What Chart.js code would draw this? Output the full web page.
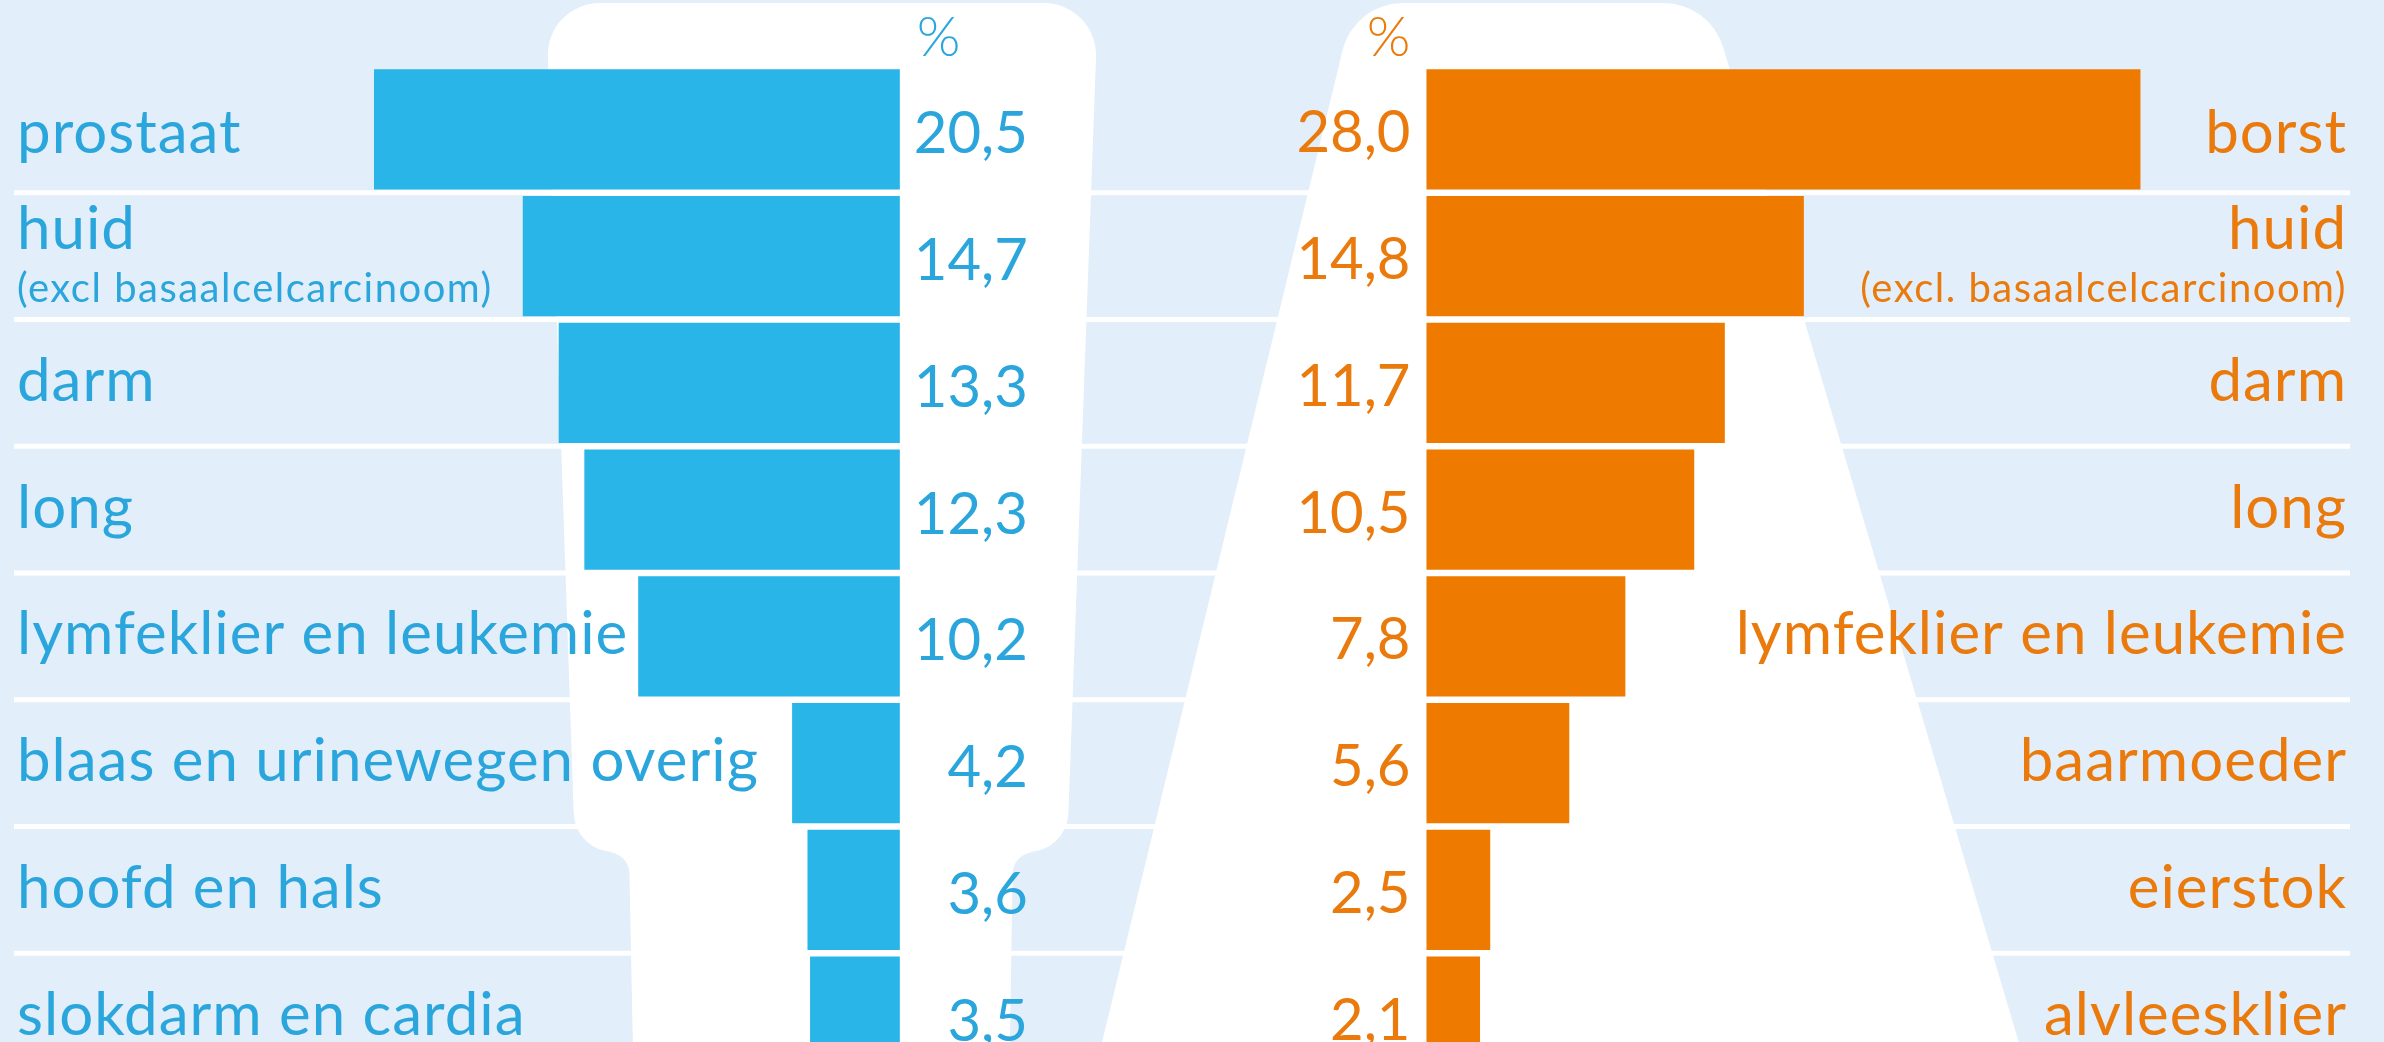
<!DOCTYPE html>
<html>
<head>
<meta charset="utf-8">
<style>
    html, body { margin: 0; padding: 0; background: #E2EEF9; overflow: hidden; }
    #wrap { width: 2384px; height: 1042px; overflow: hidden; position: relative; }
</style>
<script src="https://cdn.jsdelivr.net/npm/chart.js"></script>
</head>
<body>
<div id="wrap"><canvas id="chart" width="2384" height="1080"></canvas></div>
<script>
// === DATA ===
const menLabels = ["prostaat", ["huid", "(excl basaalcelcarcinoom)"], "darm", "long",
    "lymfeklier en leukemie", "blaas en urinewegen overig", "hoofd en hals", "slokdarm en cardia"];
const menValues = [20.5, 14.7, 13.3, 12.3, 10.2, 4.2, 3.6, 3.5];

const womenLabels = ["borst", ["huid", "(excl. basaalcelcarcinoom)"], "darm", "long",
    "lymfeklier en leukemie", "baarmoeder", "eierstok", "alvleesklier"];
const womenValues = [28.0, 14.8, 11.7, 10.5, 7.8, 5.6, 2.5, 2.1];

const unitLabel = "%";

// === STYLE ===
const BG = "#E2EEF9";
const BLUE = "#29B5E8", BLUE_TEXT = "#2AA6DC";
const ORANGE = "#EE7B00", ORANGE_TEXT = "#EA7A0C";
const FONT = "Lato, 'Open Sans', sans-serif";

const fmt = v => v.toFixed(1).replace(".", ",");

// rounded polygon, one radius per corner
function roundPoly(ctx, pts, radii) {
    const n = pts.length;
    ctx.beginPath();
    ctx.moveTo((pts[0][0] + pts[n - 1][0]) / 2, (pts[0][1] + pts[n - 1][1]) / 2);
    for (let i = 0; i < n; i++) {
        const p = pts[i], q = pts[(i + 1) % n];
        ctx.arcTo(p[0], p[1], q[0], q[1], radii[i]);
    }
    ctx.closePath();
    ctx.fill();
}

// === BACKGROUND: silhouettes + row separators ===
const backdrop = {
    id: "backdrop",
    beforeDatasetsDraw(chart) {
        const { ctx } = chart;
        const y = chart.scales.y;
        ctx.save();
        ctx.fillStyle = BG;
        ctx.fillRect(0, 0, chart.width, chart.height);

        ctx.fillStyle = "#fff";
        // man: torso + legs
        roundPoly(ctx, [[546, 3], [1098, 3], [1067, 852], [1013, 852], [1009, 1100],
                        [634, 1100], [629, 852], [575, 852]],
                  [52, 52, 40, 22, 0, 0, 22, 40]);
        // woman: dress
        roundPoly(ctx, [[1354, 3], [1710, 3], [2036, 1100], [1088, 1100]], [62, 62, 0, 0]);

        // white separators between rows
        for (let i = 1; i < menLabels.length; i++) {
            const yb = (y.getPixelForValue(i - 1) + y.getPixelForValue(i)) / 2;
            ctx.fillRect(14, yb - 2.5, 2336, 5);
        }
        ctx.restore();
    }
};

// === TEXT: labels, values, unit headers ===
function drawLabel(ctx, lab, x, cy, align, first) {
    ctx.textAlign = align;
    if (Array.isArray(lab)) {
        ctx.font = `400 60px ${FONT}`;
        ctx.letterSpacing = "1px";
        ctx.fillText(lab[0], x, cy - 7);
        ctx.font = `400 40px ${FONT}`;
        ctx.letterSpacing = "1.5px";
        ctx.fillText(lab[1], x, cy + 46);
    } else {
        ctx.font = `400 60px ${FONT}`;
        ctx.letterSpacing = "1px";
        // first row sits a little lower in the original
        ctx.fillText(lab, x, cy + (first ? 24 : 18));
    }
}

const texts = {
    id: "texts",
    afterDatasetsDraw(chart) {
        const { ctx, scales } = chart;
        const m0 = scales.xm.getPixelForValue(0);
        const f0 = scales.xf.getPixelForValue(0);
        ctx.save();
        ctx.textBaseline = "alphabetic";

        // headers
        ctx.letterSpacing = "0px";
        ctx.font = `300 56px ${FONT}`;
        ctx.fillStyle = BLUE_TEXT;
        ctx.textAlign = "left";
        ctx.fillText(unitLabel, m0 + 17, 56);
        ctx.fillStyle = ORANGE_TEXT;
        ctx.textAlign = "right";
        ctx.fillText(unitLabel, f0 - 16, 56);

        menLabels.forEach((lab, i) => {
            const cy = scales.y.getPixelForValue(i);
            ctx.fillStyle = BLUE_TEXT;
            drawLabel(ctx, lab, 17, cy, "left", i === 0);
            ctx.font = `400 58px ${FONT}`;
            ctx.letterSpacing = "0px";
            ctx.textAlign = "right";
            ctx.fillText(fmt(menValues[i]), m0 + 128, cy + 24);
        });

        womenLabels.forEach((lab, i) => {
            const cy = scales.y.getPixelForValue(i);
            ctx.fillStyle = ORANGE_TEXT;
            drawLabel(ctx, lab, 2347, cy, "right", i === 0);
            ctx.font = `400 58px ${FONT}`;
            ctx.letterSpacing = "0px";
            ctx.textAlign = "right";
            ctx.fillText(fmt(womenValues[i]), f0 - 16, cy + 23);
        });
        ctx.restore();
    }
};

// === CHART ===
new Chart(document.getElementById("chart"), {
    type: "bar",
    data: {
        labels: menLabels,
        datasets: [
            { label: "mannen", data: menValues, xAxisID: "xm", backgroundColor: BLUE,
              grouped: false, barPercentage: 0.95, categoryPercentage: 1 },
            { label: "vrouwen", data: womenValues, xAxisID: "xf", backgroundColor: ORANGE,
              grouped: false, barPercentage: 0.95, categoryPercentage: 1 }
        ]
    },
    options: {
        indexAxis: "y",
        responsive: false,
        animation: false,
        devicePixelRatio: 1,
        layout: { padding: { top: 66, bottom: 0, left: 0, right: 0 } },
        plugins: { legend: { display: false }, tooltip: { enabled: false } },
        scales: {
            y: { display: false },
            xm: { type: "linear", reverse: true, min: -57.86, max: 35.08, display: false },
            xf: { type: "linear", min: -55.94, max: 37.55, display: false }
        }
    },
    plugins: [backdrop, texts]
});
</script>
</body>
</html>
